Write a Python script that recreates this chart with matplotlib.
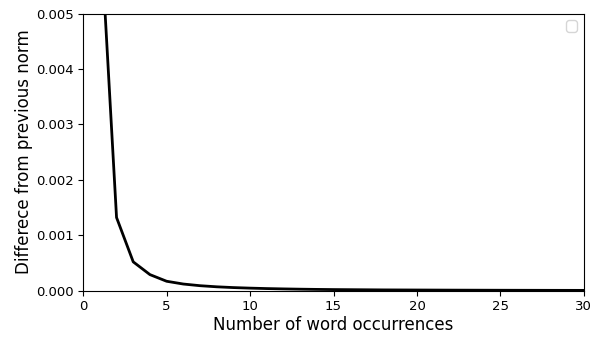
import matplotlib
matplotlib.use('Agg')
import matplotlib.pyplot as plt

occurrences = list(range(1, 31))
diff_norm = [0.0067, 0.00132, 0.00052, 0.00029, 0.00017, 0.00012, 0.000090, 0.000070,
             0.000056, 0.000046, 0.000038, 0.000032, 0.000027, 0.000023, 0.000020,
             0.000018, 0.000016, 0.000014, 0.000013, 0.000012, 0.000011, 0.000010,
             0.0000092, 0.0000085, 0.0000078, 0.0000072, 0.0000067, 0.0000062,
             0.0000058, 0.0000054]

fig, ax = plt.subplots(figsize=(5.94, 3.38), dpi=100)
ax.plot(occurrences, diff_norm, color='black', linewidth=2)
ax.set_xlim(0, 30)
ax.set_ylim(0, 0.005)
ax.set_xlabel('Number of word occurrences', fontsize=12, labelpad=2)
ax.set_ylabel('Differece from previous norm', fontsize=12, labelpad=2)
ax.tick_params(labelsize=9.5)
ax.legend(handles=[], loc='upper right')

fig.subplots_adjust(left=0.14, right=0.983, top=0.96, bottom=0.14)
fig.savefig('out.png')
